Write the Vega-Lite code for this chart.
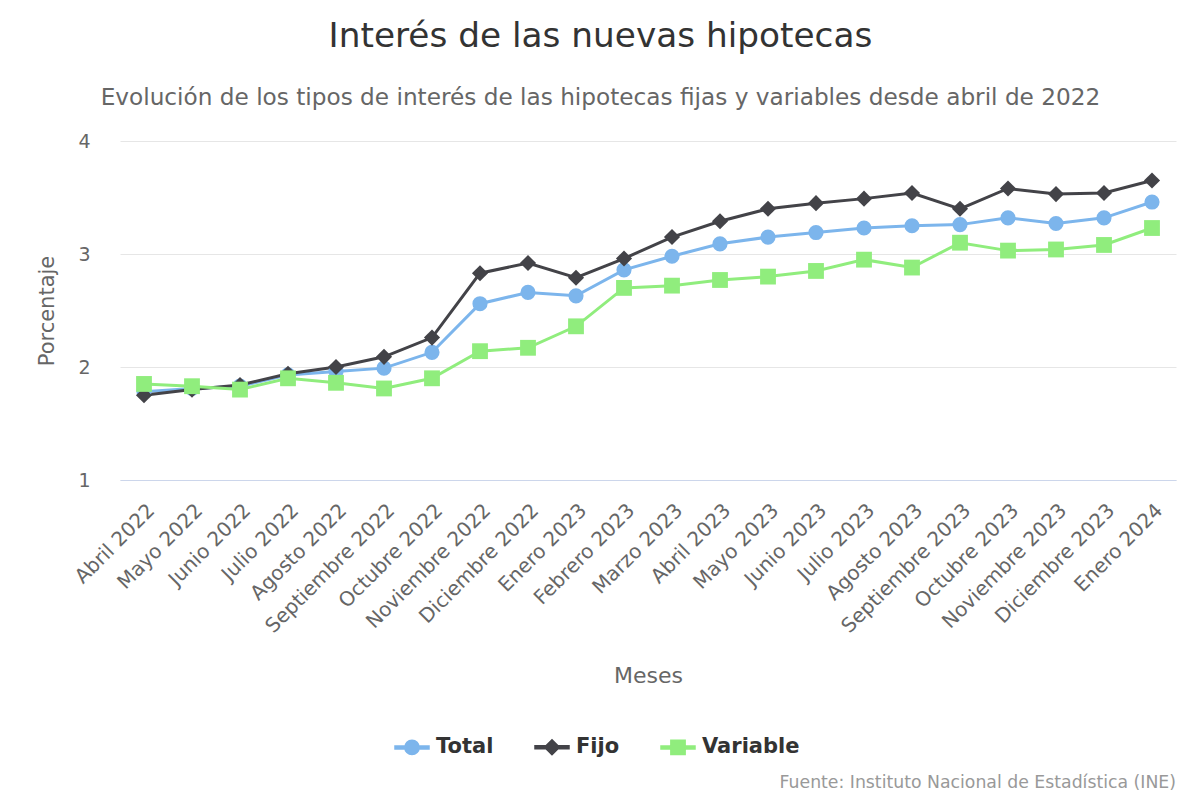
{
  "$schema": "https://vega.github.io/schema/vega-lite/v6.json",
  "background": "white",
  "padding": {"left": 36, "top": 19, "right": 20, "bottom": 10},
  "title": {"text": "Fuente: Instituto Nacional de Estadística (INE)", "orient": "bottom", "anchor": "end", "fontSize": 17.3, "fontWeight": "normal", "color": "#999999", "font": "DejaVu Sans", "offset": 16},
  "config": {"view": {"stroke": null}, "font": "DejaVu Sans"},
  "vconcat": [
    {
      "width": 1056,
      "height": 339,
      "title": {
        "text": "Interés de las nuevas hipotecas",
        "subtitle": "Evolución de los tipos de interés de las hipotecas fijas y variables desde abril de 2022",
        "fontSize": 34.3, "fontWeight": "normal", "color": "#333333", "font": "DejaVu Sans",
        "subtitleFontSize": 23.2, "subtitleColor": "#666666", "subtitleFont": "DejaVu Sans",
        "subtitlePadding": 33, "offset": 23, "anchor": "middle", "frame": "bounds", "dx": -6
      },
      "data": {"values": [
        {"mes": "Abril 2022", "serie": "Total", "valor": 1.78},
        {"mes": "Mayo 2022", "serie": "Total", "valor": 1.81},
        {"mes": "Junio 2022", "serie": "Total", "valor": 1.83},
        {"mes": "Julio 2022", "serie": "Total", "valor": 1.93},
        {"mes": "Agosto 2022", "serie": "Total", "valor": 1.96},
        {"mes": "Septiembre 2022", "serie": "Total", "valor": 1.99},
        {"mes": "Octubre 2022", "serie": "Total", "valor": 2.13},
        {"mes": "Noviembre 2022", "serie": "Total", "valor": 2.56},
        {"mes": "Diciembre 2022", "serie": "Total", "valor": 2.66},
        {"mes": "Enero 2023", "serie": "Total", "valor": 2.63},
        {"mes": "Febrero 2023", "serie": "Total", "valor": 2.86},
        {"mes": "Marzo 2023", "serie": "Total", "valor": 2.98},
        {"mes": "Abril 2023", "serie": "Total", "valor": 3.09},
        {"mes": "Mayo 2023", "serie": "Total", "valor": 3.15},
        {"mes": "Junio 2023", "serie": "Total", "valor": 3.19},
        {"mes": "Julio 2023", "serie": "Total", "valor": 3.23},
        {"mes": "Agosto 2023", "serie": "Total", "valor": 3.25},
        {"mes": "Septiembre 2023", "serie": "Total", "valor": 3.26},
        {"mes": "Octubre 2023", "serie": "Total", "valor": 3.32},
        {"mes": "Noviembre 2023", "serie": "Total", "valor": 3.27},
        {"mes": "Diciembre 2023", "serie": "Total", "valor": 3.32},
        {"mes": "Enero 2024", "serie": "Total", "valor": 3.46},
        {"mes": "Abril 2022", "serie": "Fijo", "valor": 1.75},
        {"mes": "Mayo 2022", "serie": "Fijo", "valor": 1.80},
        {"mes": "Junio 2022", "serie": "Fijo", "valor": 1.84},
        {"mes": "Julio 2022", "serie": "Fijo", "valor": 1.94},
        {"mes": "Agosto 2022", "serie": "Fijo", "valor": 2.00},
        {"mes": "Septiembre 2022", "serie": "Fijo", "valor": 2.09},
        {"mes": "Octubre 2022", "serie": "Fijo", "valor": 2.26},
        {"mes": "Noviembre 2022", "serie": "Fijo", "valor": 2.83},
        {"mes": "Diciembre 2022", "serie": "Fijo", "valor": 2.92},
        {"mes": "Enero 2023", "serie": "Fijo", "valor": 2.79},
        {"mes": "Febrero 2023", "serie": "Fijo", "valor": 2.96},
        {"mes": "Marzo 2023", "serie": "Fijo", "valor": 3.15},
        {"mes": "Abril 2023", "serie": "Fijo", "valor": 3.29},
        {"mes": "Mayo 2023", "serie": "Fijo", "valor": 3.40},
        {"mes": "Junio 2023", "serie": "Fijo", "valor": 3.45},
        {"mes": "Julio 2023", "serie": "Fijo", "valor": 3.49},
        {"mes": "Agosto 2023", "serie": "Fijo", "valor": 3.54},
        {"mes": "Septiembre 2023", "serie": "Fijo", "valor": 3.40},
        {"mes": "Octubre 2023", "serie": "Fijo", "valor": 3.58},
        {"mes": "Noviembre 2023", "serie": "Fijo", "valor": 3.53},
        {"mes": "Diciembre 2023", "serie": "Fijo", "valor": 3.54},
        {"mes": "Enero 2024", "serie": "Fijo", "valor": 3.65},
        {"mes": "Abril 2022", "serie": "Variable", "valor": 1.85},
        {"mes": "Mayo 2022", "serie": "Variable", "valor": 1.83},
        {"mes": "Junio 2022", "serie": "Variable", "valor": 1.80},
        {"mes": "Julio 2022", "serie": "Variable", "valor": 1.90},
        {"mes": "Agosto 2022", "serie": "Variable", "valor": 1.86},
        {"mes": "Septiembre 2022", "serie": "Variable", "valor": 1.81},
        {"mes": "Octubre 2022", "serie": "Variable", "valor": 1.90},
        {"mes": "Noviembre 2022", "serie": "Variable", "valor": 2.14},
        {"mes": "Diciembre 2022", "serie": "Variable", "valor": 2.17},
        {"mes": "Enero 2023", "serie": "Variable", "valor": 2.36},
        {"mes": "Febrero 2023", "serie": "Variable", "valor": 2.70},
        {"mes": "Marzo 2023", "serie": "Variable", "valor": 2.72},
        {"mes": "Abril 2023", "serie": "Variable", "valor": 2.77},
        {"mes": "Mayo 2023", "serie": "Variable", "valor": 2.80},
        {"mes": "Junio 2023", "serie": "Variable", "valor": 2.85},
        {"mes": "Julio 2023", "serie": "Variable", "valor": 2.95},
        {"mes": "Agosto 2023", "serie": "Variable", "valor": 2.88},
        {"mes": "Septiembre 2023", "serie": "Variable", "valor": 3.10},
        {"mes": "Octubre 2023", "serie": "Variable", "valor": 3.03},
        {"mes": "Noviembre 2023", "serie": "Variable", "valor": 3.04},
        {"mes": "Diciembre 2023", "serie": "Variable", "valor": 3.08},
        {"mes": "Enero 2024", "serie": "Variable", "valor": 3.23}
      ]},
      "encoding": {
        "x": {
          "field": "mes", "type": "ordinal", "sort": null,
          "scale": {"type": "point", "padding": 0.5},
          "axis": {
            "title": "Meses", "titleFontSize": 22, "titleFontWeight": "normal", "titleColor": "#666666", "titlePadding": 29,
            "labelAngle": -45, "labelFontSize": 20, "labelColor": "#666666", "labelPadding": 20, "labelLimit": 400,
            "ticks": false, "domainColor": "#ccd6eb", "domainWidth": 1, "grid": false
          }
        },
        "y": {
          "field": "valor", "type": "quantitative",
          "scale": {"domain": [1, 4], "nice": false, "zero": false},
          "axis": {
            "title": "Porcentaje", "titleFontSize": 21, "titleFontWeight": "normal", "titleColor": "#666666", "titlePadding": 20,
            "values": [1, 2, 3, 4], "labelFontSize": 19, "labelColor": "#666666", "labelPadding": 30,
            "ticks": false, "domain": false, "grid": true, "gridColor": "#e6e6e6", "gridWidth": 1
          }
        },
        "color": {
          "field": "serie", "type": "nominal",
          "scale": {"domain": ["Total", "Fijo", "Variable"], "range": ["#7cb5ec", "#434348", "#90ed7d"]},
          "legend": {
            "title": null, "orient": "none", "legendX": 274, "legendY": 588, "direction": "horizontal",
            "labelFontSize": 21, "labelFontWeight": "bold", "labelColor": "#333333", "labelOffset": 6,
            "symbolSize": 1156, "columnPadding": 38, "symbolOpacity": 1
          }
        }
      },
      "layer": [
        {"mark": {"type": "line", "strokeWidth": 3}},
        {
          "mark": {"type": "point", "filled": true, "opacity": 1},
          "encoding": {
            "shape": {
              "field": "serie", "type": "nominal",
              "scale": {
                "domain": ["Total", "Fijo", "Variable"],
                "range": [
                  "M-1,-0.09H-0.4V0.09H-1Z M0.4,-0.09H1V0.09H0.4Z M-0.42,0A0.42,0.42 0 1,0 0.42,0A0.42,0.42 0 1,0 -0.42,0Z",
                  "M-1,-0.09H-0.4V0.09H-1Z M0.4,-0.09H1V0.09H0.4Z M0,-0.44L0.44,0L0,0.44L-0.44,0Z",
                  "M-1,-0.09H-0.4V0.09H-1Z M0.4,-0.09H1V0.09H0.4Z M-0.42,-0.42H0.42V0.42H-0.42Z"
                ]
              },
              "legend": {
                "title": null, "orient": "none", "legendX": 274, "legendY": 588, "direction": "horizontal",
                "labelFontSize": 21, "labelFontWeight": "bold", "labelColor": "#333333", "labelOffset": 6,
                "symbolSize": 1156, "columnPadding": 38, "symbolOpacity": 1
              }
            },
            "size": {"value": 0}
          }
        },
        {
          "transform": [{"filter": "datum.serie === 'Total'"}],
          "mark": {"type": "point", "filled": true, "opacity": 1, "shape": "circle", "size": 230}
        },
        {
          "transform": [{"filter": "datum.serie === 'Fijo'"}],
          "mark": {"type": "point", "filled": true, "opacity": 1, "shape": "diamond", "size": 260}
        },
        {
          "transform": [{"filter": "datum.serie === 'Variable'"}],
          "mark": {"type": "point", "filled": true, "opacity": 1, "shape": "square", "size": 250}
        }
      ]
    }
  ]
}
